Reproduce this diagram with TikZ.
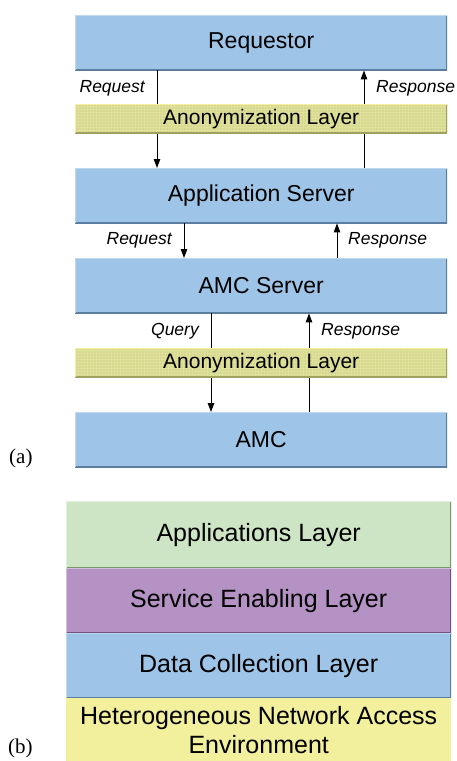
\documentclass[tikz,border=0pt]{standalone}
\usepackage{fontspec}
\setmainfont{Liberation Sans}
\newfontfamily\capfont{Liberation Serif}
\usetikzlibrary{arrows.meta}

\definecolor{boxblue}{RGB}{158,196,231}
\definecolor{boxblueD}{RGB}{90,125,160}
\definecolor{boxblueL}{RGB}{190,216,240}
\definecolor{anonfill}{RGB}{214,216,142}
\definecolor{anongrid}{RGB}{222,224,156}
\definecolor{anonD}{RGB}{160,160,96}
\definecolor{anonL}{RGB}{244,240,160}
\definecolor{appgreen}{RGB}{205,229,196}
\definecolor{appgreenD}{RGB}{120,150,110}
\definecolor{svcpurple}{RGB}{180,146,196}
\definecolor{svcpurpleD}{RGB}{110,80,130}
\definecolor{netyellow}{RGB}{243,240,157}

\tikzset{
  bevel/.style 2 args={path picture={
    \draw[line width=2.4pt,#1]
      (path picture bounding box.south west) -- (path picture bounding box.south east)
      -- (path picture bounding box.north east);
    \draw[line width=2pt,#2]
      (path picture bounding box.south west) -- (path picture bounding box.north west)
      -- (path picture bounding box.north east);}},
  layerbox/.style={rectangle, draw=none, anchor=north west, inner sep=0pt,
    minimum width=372pt, font=\fontsize{23}{27}\selectfont},
  bluebox/.style={layerbox, fill=boxblue, minimum height=55pt, bevel={boxblueD}{boxblueL}},
  anonbox/.style={layerbox, fill=anonfill, minimum height=29pt,
    font=\fontsize{21}{25}\selectfont,
    path picture={
      \foreach \k in {0,3,...,372}
        \draw[anongrid,line width=0.5pt]
          ([xshift=\k pt]path picture bounding box.south west) --
          ([xshift=\k pt]path picture bounding box.north west);
      \foreach \k in {0,3,...,30}
        \draw[anongrid,line width=0.5pt]
          ([yshift=\k pt]path picture bounding box.south west) --
          ([yshift=\k pt]path picture bounding box.south east);
      \draw[line width=2.4pt,anonD]
        (path picture bounding box.south west) -- (path picture bounding box.south east)
        -- (path picture bounding box.north east);
      \draw[line width=2.4pt,anonL]
        (path picture bounding box.south west) -- (path picture bounding box.north west)
        -- (path picture bounding box.north east);}},
  stackbox/.style={layerbox, minimum width=385pt, font=\fontsize{25}{29}\selectfont,
    align=center},
  flowlabel/.style={inner sep=0pt, font=\fontsize{17.5}{20}\selectfont\itshape},
  flow/.style={line width=1pt, -{Triangle[length=9pt,width=6.5pt]}},
  caption/.style={inner sep=0pt, font=\capfont\fontsize{21}{24}\selectfont}
}

\begin{document}
\begin{tikzpicture}[x=1pt,y=-1pt]
  \useasboundingbox (0,0) rectangle (456,761);

  % (a) request/response chain
  \node[bluebox] (req) at (75,15) {Requestor};
  \node[bluebox] (app) at (75,168) {Application Server};
  \node[bluebox] (amcs) at (75,258) {AMC Server};
  \node[bluebox] (amc) at (75,412) {AMC};

  \coordinate (x1) at (157,0);
  \coordinate (x2) at (364,0);
  \coordinate (x3) at (184,0);
  \coordinate (x4) at (337,0);
  \coordinate (x5) at (211,0);
  \coordinate (x6) at (309,0);

  \draw[flow] (req.south -| x1) -- (app.north -| x1);
  \draw[flow] (app.north -| x2) -- (req.south -| x2);
  \draw[flow] (app.south -| x3) -- (amcs.north -| x3);
  \draw[flow] (amcs.north -| x4) -- (app.south -| x4);
  \draw[flow] (amcs.south -| x5) -- (amc.north -| x5);
  \draw[flow] (amc.north -| x6) -- (amcs.south -| x6);

  % anonymization layers sit over the arrows
  \node[anonbox] (anon1) at (75,104) {Anonymization Layer};
  \node[anonbox] (anon2) at (75,348) {Anonymization Layer};

  \node[flowlabel, anchor=east] (l1) at (145,88) {Request};
  \node[flowlabel, anchor=west] (l2) at (376,88) {Response};
  \node[flowlabel, anchor=east] (l3) at (172,240) {Request};
  \node[flowlabel, anchor=west] (l4) at (348,240) {Response};
  \node[flowlabel, anchor=east] (l5) at (199,331) {Query};
  \node[flowlabel, anchor=west] (l6) at (321,331) {Response};

  \node[caption, anchor=west] (capa) at (9,458) {(a)};

  % (b) layered architecture
  \node[stackbox, fill=appgreen, minimum height=67pt,
        bevel={appgreenD}{appgreen!60!white}] (apps) at (66,501) {Applications Layer};
  \node[stackbox, fill=svcpurple, minimum height=65pt,
        bevel={svcpurpleD}{svcpurple!60!white}] (svc) at (66,568) {Service Enabling Layer};
  \node[stackbox, fill=boxblue, minimum height=65pt,
        bevel={boxblueD}{boxblueL}] (data) at (66,633) {Data Collection Layer};
  \node[stackbox, fill=netyellow, minimum height=63pt] (net) at (66,698)
        {Heterogeneous Network Access\\Environment};

  \node[caption, anchor=west] (capb) at (8,748) {(b)};
\end{tikzpicture}
\end{document}
